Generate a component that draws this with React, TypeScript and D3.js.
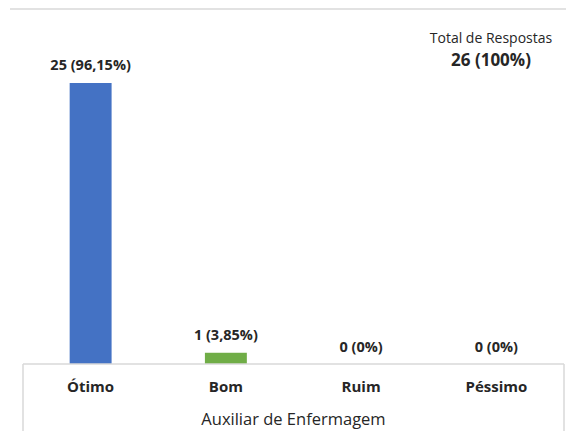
import React from "react";
import * as d3 from "d3";

const categories = ["Ótimo", "Bom", "Ruim", "Péssimo"];
const counts = [25, 1, 0, 0];
const valueLabels = ["25 (96,15%)", "1 (3,85%)", "0 (0%)", "0 (0%)"];
const barColors = ["#4472c4", "#70ad47", "#a5a5a5", "#ffc000"];
const groupTitle = "Auxiliar de Enfermagem";
const totalTitle = "Total de Respostas";
const totalValue = "26 (100%)";

const W = 566;
const H = 446;
const FONT = "'Open Sans', 'Liberation Sans', sans-serif";

export default function App() {
  const left = 23;
  const right = 564;
  const baseY = 364;

  const x = d3.scaleBand<string>().domain(categories).range([left, right]).paddingInner(0.69).paddingOuter(0.345);
  const y = d3.scaleLinear().domain([0, 25]).range([baseY, 83]);

  return (
    <svg width={W} height={H} style={{ position: "absolute", left: 0, top: 0, background: "#fff" }}>
      <line x1={10} x2={566} y1={9} y2={9} stroke="#d9d9d9" strokeWidth={1.5} />

      {categories.map((c, i) => {
        const bx = x(c)!;
        const by = y(counts[i]);
        const cx = bx + x.bandwidth() / 2;
        const lblY = counts[i] > 0 ? by - 13 : baseY - 12;
        return (
          <g key={c}>
            {counts[i] > 0 && (
              <rect x={bx} y={by} width={x.bandwidth()} height={baseY - by} fill={barColors[i]} />
            )}
            <text x={cx} y={lblY} textAnchor="middle" fontFamily={FONT} fontSize={14.5} fontWeight="bold" fill="#262626">
              {valueLabels[i]}
            </text>
            <text x={cx} y={392} textAnchor="middle" fontFamily={FONT} fontSize={15} fontWeight="bold" fill="#262626">
              {c}
            </text>
          </g>
        );
      })}

      <line x1={left} x2={right} y1={baseY} y2={baseY} stroke="#d9d9d9" strokeWidth={1.5} />
      <line x1={left} x2={left} y1={baseY} y2={431} stroke="#d9d9d9" strokeWidth={1.5} />
      <line x1={right} x2={right} y1={baseY} y2={431} stroke="#d9d9d9" strokeWidth={1.5} />

      <text x={(left + right) / 2} y={425} textAnchor="middle" fontFamily={FONT} fontSize={16.5} fill="#262626">
        {groupTitle}
      </text>

      <text x={491} y={43} textAnchor="middle" fontFamily={FONT} fontSize={14} fill="#262626">
        {totalTitle}
      </text>
      <text x={491} y={66} textAnchor="middle" fontFamily={FONT} fontSize={17} fontWeight="bold" fill="#262626">
        {totalValue}
      </text>
    </svg>
  );
}
